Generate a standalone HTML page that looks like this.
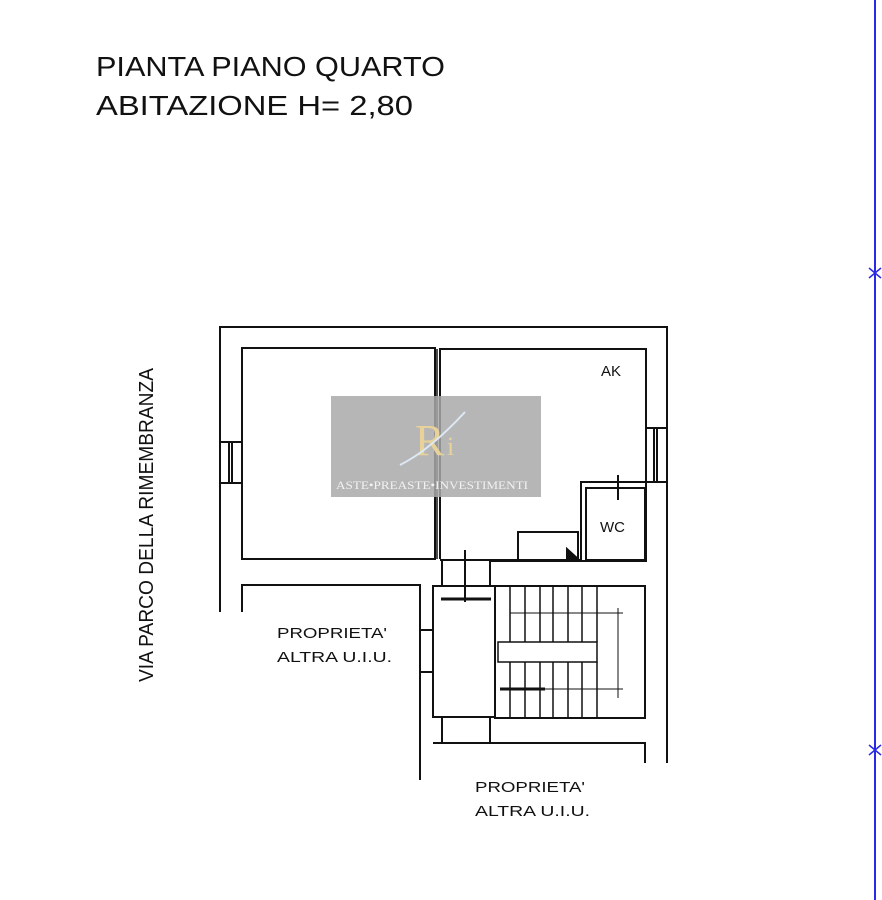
<!DOCTYPE html>
<html><head><meta charset="utf-8"><style>
html,body{margin:0;padding:0;background:#fff;}
svg{display:block;}
text{font-family:"Liberation Sans",sans-serif;fill:#111;}
</style></head><body>
<svg width="882" height="900" viewBox="0 0 882 900" xmlns="http://www.w3.org/2000/svg">
<rect width="882" height="900" fill="#fff"/>
<text x="96" y="76" font-size="28" textLength="349" lengthAdjust="spacingAndGlyphs">PIANTA PIANO QUARTO</text>
<text x="96" y="115" font-size="28" textLength="317" lengthAdjust="spacingAndGlyphs">ABITAZIONE H= 2,80</text>
<text transform="translate(153,682) rotate(-90)" font-size="20" textLength="314" lengthAdjust="spacingAndGlyphs">VIA PARCO DELLA RIMEMBRANZA</text>
<!-- blue line -->
<line x1="875" y1="0" x2="875" y2="900" stroke="#2a2ae6" stroke-width="2"/>
<path d="M869 268 L881 278 M869 278 L881 268 M869 745 L881 755 M869 755 L881 745" stroke="#2a2ae6" stroke-width="1.5"/>
<g stroke="#111" stroke-width="2" fill="none">
<!-- outer walls -->
<path d="M220 612 V327 H667 V763"/>
<path d="M220 442 H242 M220 483 H242 M229 442 V483 M232 442 V483"/>
<path d="M646 428 H667 M646 482 H667 M654 428 V482 M657 428 V482"/>
<!-- rooms -->
<rect x="242" y="348" width="193" height="211"/>
<path d="M440 559 V349 H646 V482 M646 482 H581 V560"/>
<path d="M437 349 V559" stroke-width="1.5"/>
<rect x="586" y="488" width="59" height="72"/>
<path d="M618 475 V500"/>
<path d="M518 559 V532 H578 V560"/>
<path d="M567 549 L578 559 L567 559 Z" fill="#111"/>
<path d="M440 560 H581"/>
<path d="M490 561 V585 M442 559 V585 M490 561 H646 V482"/>
<path d="M465 550 V602"/>
<!-- lower left -->
<path d="M242 612 V585 H420 V630 H433 M420 630 V672 H433 M420 672 V780"/>
<!-- shaft -->
<rect x="433" y="586" width="62" height="131"/>
<path d="M441 599 H491" stroke-width="3"/>
<!-- stair -->
<rect x="495" y="586" width="150" height="132"/>
<g stroke-width="1.5">
<path d="M510 586 V642 M525 586 V642 M540 586 V642 M553 586 V642 M568 586 V642 M582 586 V642 M597 586 V642"/>
<path d="M510 662 V718 M525 662 V718 M540 662 V718 M553 662 V718 M568 662 V718 M582 662 V718 M597 662 V718"/>
<rect x="498" y="642" width="99" height="20"/>
<path d="M510 613 H623 M510 689 H623 M618 608 V698" stroke-width="1"/>
<path d="M500 689 H545" stroke-width="3"/>
</g>
<!-- bottom -->
<path d="M442 717 V743 M490 717 V743 M433 743 H645 V763"/>
</g>
<text x="601" y="376" font-size="15">AK</text>
<text x="600" y="532" font-size="15">WC</text>
<text x="277" y="638" font-size="15" textLength="110" lengthAdjust="spacingAndGlyphs">PROPRIETA'</text>
<text x="277" y="662" font-size="15" textLength="115" lengthAdjust="spacingAndGlyphs">ALTRA U.I.U.</text>
<text x="475" y="792" font-size="15" textLength="110" lengthAdjust="spacingAndGlyphs">PROPRIETA'</text>
<text x="475" y="816" font-size="15" textLength="115" lengthAdjust="spacingAndGlyphs">ALTRA U.I.U.</text>
<!-- watermark -->
<rect x="331" y="396" width="210" height="101" fill="#a9a9a9" opacity="0.85"/>
<text x="415" y="455" font-size="44" fill="#e8d29a" style="fill:#e8d29a;font-family:'Liberation Serif',serif">R</text>
<text x="447" y="455" font-size="26" style="fill:#e8d29a;font-family:'Liberation Serif',serif">i</text>
<path d="M400 465 Q430 450 465 412" stroke="#dde8f5" stroke-width="2" fill="none"/>
<text x="336" y="489" font-size="12" textLength="192" lengthAdjust="spacingAndGlyphs" style="fill:#f2f2f2;font-family:'Liberation Serif',serif">ASTE•PREASTE•INVESTIMENTI</text>
</svg>
</body></html>
